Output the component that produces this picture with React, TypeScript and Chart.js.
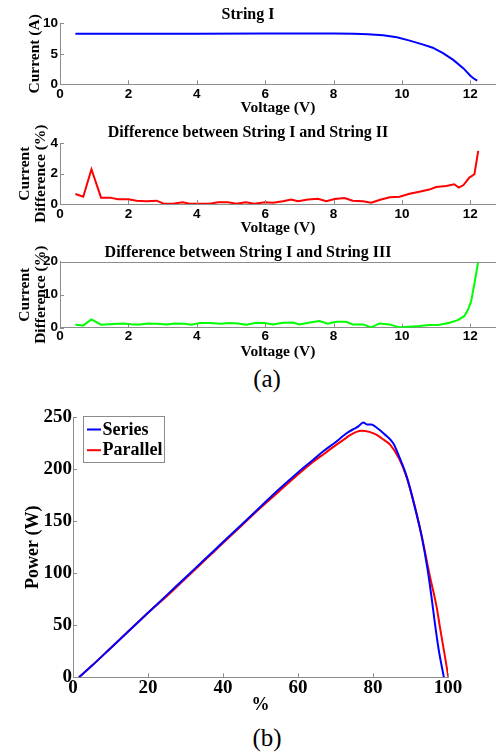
import React, { useEffect, useRef } from "react";
import { Chart, registerables } from "chart.js";

Chart.register(...registerables);

// ---------------- Data ----------------
const VOLTAGE_TICKS = [0, 2, 4, 6, 8, 10, 12];

const STRING1_VOLTAGE = [0.45, 2, 4, 6, 8, 8.6, 9.0, 9.45, 9.85, 10.2, 10.6, 10.9, 11.2, 11.5, 11.8, 12.0, 12.1, 12.2];
const STRING1_CURRENT = [8.3, 8.3, 8.3, 8.32, 8.32, 8.3, 8.2, 8.05, 7.7, 7.2, 6.55, 6.0, 5.1, 4.0, 2.6, 1.4, 0.95, 0.6];
const CURRENT_TICKS = [0, 5, 10];

const DIFF12_VOLTAGE = [
  0.45, 0.68, 0.92, 1.2, 1.46, 1.7, 2.0, 2.24, 2.53, 2.82, 3.02, 3.31, 3.58, 3.8, 4.09, 4.38, 4.62, 4.91,
  5.16, 5.43, 5.69, 5.99, 6.23, 6.52, 6.76, 6.96, 7.25, 7.54, 7.79, 8.03, 8.32, 8.56, 8.86, 9.1, 9.34,
  9.64, 9.93, 10.22, 10.51, 10.8, 11.0, 11.29, 11.53, 11.66, 11.8, 11.97, 12.12, 12.23,
];
const DIFF12_PERCENT = [
  0.66, 0.48, 2.29, 0.42, 0.42, 0.31, 0.31, 0.22, 0.18, 0.22, 0.04, 0.02, 0.11, 0.02, 0.02, 0.02, 0.11, 0.11,
  0.02, 0.11, 0.02, 0.11, 0.09, 0.18, 0.29, 0.18, 0.29, 0.35, 0.18, 0.33, 0.4, 0.22, 0.18, 0.09, 0.26,
  0.44, 0.48, 0.68, 0.81, 0.95, 1.12, 1.19, 1.3, 1.08, 1.25, 1.74, 1.96, 3.5,
];
const DIFF12_TICKS = [0, 2, 4];

const DIFF13_VOLTAGE = [
  0.45, 0.68, 0.92, 1.2, 1.56, 1.85, 2.14, 2.34, 2.58, 2.82, 3.11, 3.36, 3.65, 3.84, 4.09, 4.38, 4.67, 4.96,
  5.2, 5.45, 5.74, 5.99, 6.23, 6.52, 6.81, 7.0, 7.3, 7.59, 7.83, 8.08, 8.37, 8.56, 8.86, 9.1, 9.34, 9.64,
  9.93, 10.22, 10.51, 10.8, 11.1, 11.39, 11.63, 11.82, 11.92, 12.02, 12.12, 12.23,
];
const DIFF13_PERCENT = [
  0.9, 0.7, 2.5, 0.9, 1.1, 1.3, 1.0, 1.0, 1.3, 1.2, 1.0, 1.3, 1.2, 0.9, 1.4, 1.4, 1.2, 1.4,
  1.3, 0.9, 1.5, 1.4, 1.0, 1.5, 1.6, 1.0, 1.6, 2.0, 1.2, 1.8, 1.8, 1.0, 1.0, 0.1, 1.3, 1.0,
  0.1, 0.3, 0.5, 0.8, 0.9, 1.5, 2.3, 3.5, 5.2, 7.9, 13.4, 20,
];
const DIFF13_TICKS = [0, 10, 20];

const PERCENT_TICKS = [0, 20, 40, 60, 80, 100];
const POWER_TICKS = [0, 50, 100, 150, 200, 250];

const SERIES_PERCENT = [
  1.6, 5, 10, 15, 20, 25, 30, 35, 40, 45, 50, 55, 60, 64, 67, 70, 72, 73.5, 75, 76, 77.4, 78.5, 79.5, 81,
  83, 85.4, 87, 89, 91.6, 93, 94.5, 95.5, 96.5, 97.5, 98.9,
];
const SERIES_POWER = [
  0, 11, 28, 45, 62, 79, 96, 113, 130, 147, 164, 181, 197, 209, 218, 226, 232, 236, 239, 241, 245, 243, 243, 240,
  234, 225, 212, 193, 157, 135, 105, 80, 52, 27, 0,
];
const PARALLEL_PERCENT = [
  1.6, 5, 10, 15, 20, 25, 30, 35, 40, 45, 50, 55, 60, 64, 67, 70, 72, 74, 76.8, 79, 81, 83, 84.5, 87, 89,
  91.6, 93, 95, 97, 97.9, 99, 100.1,
];
const PARALLEL_POWER = [
  0, 11, 28, 45, 62, 78, 95, 112, 129, 146, 163, 179, 195, 207, 215, 223, 228, 233, 237, 236, 233, 228, 224, 210, 192,
  158, 136, 100, 67, 47, 24, 0,
];

// ---------------- Styles ----------------
const SERIF = "'Liberation Serif', 'Times New Roman', serif";
const SANS = "'Liberation Sans', Arial, sans-serif";
const AXIS_GRAY = "#8c8c8c";
const WIDTH = 496;

const toPoints = (xs: number[], ys: number[]) => xs.map((x, i) => ({ x, y: ys[i] }));

const decorPlugin = {
  id: "decor",
  afterDatasetsDraw(chart: any, _args: any, opts: any) {
    const { ctx, chartArea: a } = chart;
    const xs = chart.scales.x;
    const ys = chart.scales.y;
    const tl = opts.tick || 4;
    ctx.save();
    ctx.strokeStyle = AXIS_GRAY;
    ctx.lineWidth = 1;
    ctx.beginPath();
    xs.ticks.forEach((t: any) => {
      const px = Math.round(xs.getPixelForValue(t.value)) + 0.5;
      ctx.moveTo(px, a.bottom);
      ctx.lineTo(px, a.bottom - tl);
    });
    ys.ticks.forEach((t: any) => {
      const py = Math.round(ys.getPixelForValue(t.value)) + 0.5;
      ctx.moveTo(a.left, py);
      ctx.lineTo(a.left + tl, py);
    });
    if (opts.topBorder) {
      ctx.moveTo(a.left, Math.round(a.top) + 0.5);
      ctx.lineTo(a.right, Math.round(a.top) + 0.5);
    }
    ctx.stroke();
    if (opts.legend) {
      const bx = Math.round(a.left + 9.7) + 0.5;
      const by = Math.round(a.top - 1.3) + 0.5;
      const bw = 81;
      const bh = 46;
      ctx.fillStyle = "#ffffff";
      ctx.fillRect(bx, by, bw, bh);
      ctx.strokeStyle = AXIS_GRAY;
      ctx.strokeRect(bx, by, bw, bh);
      chart.data.datasets.forEach((ds: any, i: number) => {
        const cy = by + 13 + i * 20.7;
        ctx.strokeStyle = ds.borderColor;
        ctx.lineWidth = 2;
        ctx.beginPath();
        ctx.moveTo(bx + 3.5, cy);
        ctx.lineTo(bx + 17.5, cy);
        ctx.stroke();
        ctx.fillStyle = "#000";
        ctx.font = `bold 18px ${SERIF}`;
        ctx.textBaseline = "middle";
        ctx.textAlign = "left";
        ctx.fillText(ds.label, bx + 19, cy + 0.5);
      });
    }
    ctx.restore();
  },
};

type VoltLayout = {
  canvasH: number;
  titleY: number;
  areaTop: number;
  areaBottom: number;
  tickY: number;
  xTitleY: number;
  yTitleX: number;
};

const HEAD_FS = 16;
const TITLE_FS = 15.5;
const TICK_FS = 13.5;
const AREA_LEFT = 60;

function voltPanel(
  title: string,
  yTitle: string | string[],
  xs: number[],
  ys: number[],
  color: string,
  yMax: number,
  yTicks: number[],
  L: VoltLayout,
  topBorder: boolean
): any {
  const titlePadTop = L.titleY - HEAD_FS / 2;
  const titlePadBottom = L.areaTop - titlePadTop - HEAD_FS;
  const xTickPad = L.tickY - L.areaBottom - TICK_FS / 2;
  const xAxisH = L.xTitleY - L.areaBottom + TITLE_FS / 2;
  const layoutPadBottom = L.canvasH - L.areaBottom - xAxisH;
  const yTitlePad = L.yTitleX - TITLE_FS / 2;
  return {
    type: "line",
    data: {
      datasets: [
        {
          label: title,
          data: toPoints(xs, ys),
          borderColor: color,
          backgroundColor: color,
          borderWidth: 2,
          pointRadius: 0,
          tension: 0,
          fill: false,
        },
      ],
    },
    options: {
      animation: false,
      responsive: false,
      events: [],
      layout: { padding: { left: 0, right: 0, top: 0, bottom: layoutPadBottom } },
      plugins: {
        legend: { display: false },
        tooltip: { enabled: false },
        title: {
          display: true,
          text: title,
          color: "#000",
          font: { family: SERIF, size: HEAD_FS, weight: "bold", lineHeight: 1 },
          padding: { top: titlePadTop, bottom: titlePadBottom },
        },
        decor: { tick: 4, topBorder },
      },
      scales: {
        x: {
          type: "linear",
          min: 0,
          max: 12.75,
          afterBuildTicks: (axis: any) => {
            axis.ticks = VOLTAGE_TICKS.map((v) => ({ value: v }));
          },
          afterFit: (axis: any) => {
            axis.height = xAxisH;
          },
          grid: { display: false, drawTicks: false, tickLength: 0 },
          border: { display: true, color: AXIS_GRAY, width: 1 },
          ticks: {
            color: "#000",
            padding: xTickPad,
            maxRotation: 0,
            autoSkip: false,
            font: { family: SANS, size: TICK_FS, weight: "bold", lineHeight: 1 },
          },
          title: {
            display: true,
            text: "Voltage (V)",
            color: "#000",
            padding: { top: 0, bottom: 0 },
            font: { family: SERIF, size: TITLE_FS, weight: "bold", lineHeight: 1 },
          },
        },
        y: {
          type: "linear",
          min: 0,
          max: yMax,
          afterBuildTicks: (axis: any) => {
            axis.ticks = yTicks.map((v) => ({ value: v }));
          },
          afterFit: (axis: any) => {
            axis.width = AREA_LEFT;
          },
          grid: { display: false, drawTicks: false, tickLength: 0 },
          border: { display: true, color: AXIS_GRAY, width: 1 },
          ticks: {
            color: "#000",
            padding: 2,
            autoSkip: false,
            font: { family: SANS, size: TICK_FS, weight: "bold", lineHeight: 1 },
          },
          title: {
            display: true,
            text: yTitle,
            color: "#000",
            padding: { top: yTitlePad, bottom: 0 },
            font: { family: SERIF, size: TITLE_FS, weight: "bold", lineHeight: 1 },
          },
        },
      },
    },
    plugins: [decorPlugin],
  };
}

function powerPanel(): any {
  const canvasH = 330;
  const areaTop = 27.3;
  const areaBottom = 287.3;
  const areaLeft = 73;
  const areaRight = 448;
  const tickFs = 19;
  const labFs = 18;
  const tickY = 298;
  const xTitleY = 315;
  const yTitleX = 33.5;
  const xAxisH = xTitleY - areaBottom + labFs / 2;
  return {
    type: "line",
    data: {
      datasets: [
        {
          label: "Series",
          data: toPoints(SERIES_PERCENT, SERIES_POWER),
          borderColor: "#0000ff",
          borderWidth: 2,
          pointRadius: 0,
          cubicInterpolationMode: "monotone",
          fill: false,
        },
        {
          label: "Parallel",
          data: toPoints(PARALLEL_PERCENT, PARALLEL_POWER),
          borderColor: "#ff0000",
          borderWidth: 2,
          pointRadius: 0,
          cubicInterpolationMode: "monotone",
          fill: false,
        },
      ],
    },
    options: {
      animation: false,
      responsive: false,
      events: [],
      layout: {
        padding: { left: 0, right: WIDTH - areaRight, top: areaTop, bottom: canvasH - areaBottom - xAxisH },
      },
      plugins: {
        legend: { display: false },
        tooltip: { enabled: false },
        title: { display: false },
        decor: { tick: 4, legend: true },
      },
      scales: {
        x: {
          type: "linear",
          min: 0,
          max: 100,
          afterBuildTicks: (axis: any) => {
            axis.ticks = PERCENT_TICKS.map((v) => ({ value: v }));
          },
          afterFit: (axis: any) => {
            axis.height = xAxisH;
          },
          grid: { display: false, drawTicks: false, tickLength: 0 },
          border: { display: true, color: AXIS_GRAY, width: 1 },
          ticks: {
            color: "#000",
            padding: tickY - areaBottom - tickFs / 2,
            maxRotation: 0,
            autoSkip: false,
            font: { family: SERIF, size: tickFs, weight: "bold", lineHeight: 1 },
          },
          title: {
            display: true,
            text: "%",
            color: "#000",
            padding: { top: 0, bottom: 0 },
            font: { family: SERIF, size: labFs, weight: "bold", lineHeight: 1 },
          },
        },
        y: {
          type: "linear",
          min: 0,
          max: 250,
          afterBuildTicks: (axis: any) => {
            axis.ticks = POWER_TICKS.map((v) => ({ value: v }));
          },
          afterFit: (axis: any) => {
            axis.width = areaLeft;
          },
          grid: { display: false, drawTicks: false, tickLength: 0 },
          border: { display: true, color: AXIS_GRAY, width: 1 },
          ticks: {
            color: "#000",
            padding: 1,
            autoSkip: false,
            font: { family: SERIF, size: tickFs, weight: "bold", lineHeight: 1 },
          },
          title: {
            display: true,
            text: "Power (W)",
            color: "#000",
            padding: { top: yTitleX - labFs / 2, bottom: 0 },
            font: { family: SERIF, size: labFs, weight: "bold", lineHeight: 1 },
          },
        },
      },
    },
    plugins: [decorPlugin],
  };
}

function ChartCanvas({ top, height, make }: { top: number; height: number; make: () => any }) {
  const ref = useRef<HTMLCanvasElement | null>(null);
  useEffect(() => {
    if (!ref.current) return;
    const chart = new Chart(ref.current, make());
    return () => chart.destroy();
  }, []);
  return (
    <canvas
      ref={ref}
      width={WIDTH}
      height={height}
      style={{ position: "absolute", left: 0, top, width: WIDTH, height, display: "block" }}
    />
  );
}

const captionStyle = (top: number): React.CSSProperties => ({
  position: "absolute",
  left: 267,
  top,
  transform: "translateX(-50%)",
  fontFamily: SERIF,
  fontSize: 25,
  lineHeight: "25px",
  color: "#000",
  whiteSpace: "nowrap",
});

export default function App() {
  return (
    <div style={{ position: "absolute", left: 0, top: 0, width: WIDTH, height: 755, background: "#fff", overflow: "hidden" }}>
      <ChartCanvas
        top={0}
        height={120}
        make={() =>
          voltPanel("String I", "Current (A)", STRING1_VOLTAGE, STRING1_CURRENT, "#0000ff", 10, CURRENT_TICKS,
            { canvasH: 120, titleY: 15, areaTop: 23.3, areaBottom: 84.3, tickY: 94.3, xTitleY: 108.3, yTitleX: 35 }, false)
        }
      />
      <ChartCanvas
        top={120}
        height={120}
        make={() =>
          voltPanel("Difference between String I and String II", ["Current", "Difference (%)"], DIFF12_VOLTAGE, DIFF12_PERCENT,
            "#ff0000", 4, DIFF12_TICKS,
            { canvasH: 120, titleY: 13.3, areaTop: 23.3, areaBottom: 84, tickY: 94.3, xTitleY: 108.3, yTitleX: 25 }, false)
        }
      />
      <ChartCanvas
        top={240}
        height={125}
        make={() =>
          voltPanel("Difference between String I and String III", ["Current", "Difference (%)"], DIFF13_VOLTAGE, DIFF13_PERCENT,
            "#00ff00", 20, DIFF13_TICKS,
            { canvasH: 125, titleY: 13.3, areaTop: 21.7, areaBottom: 87.7, tickY: 96.7, xTitleY: 111.7, yTitleX: 25 }, true)
        }
      />
      <div style={captionStyle(366)}>(a)</div>
      <ChartCanvas top={390} height={330} make={powerPanel} />
      <div style={captionStyle(725)}>(b)</div>
    </div>
  );
}
